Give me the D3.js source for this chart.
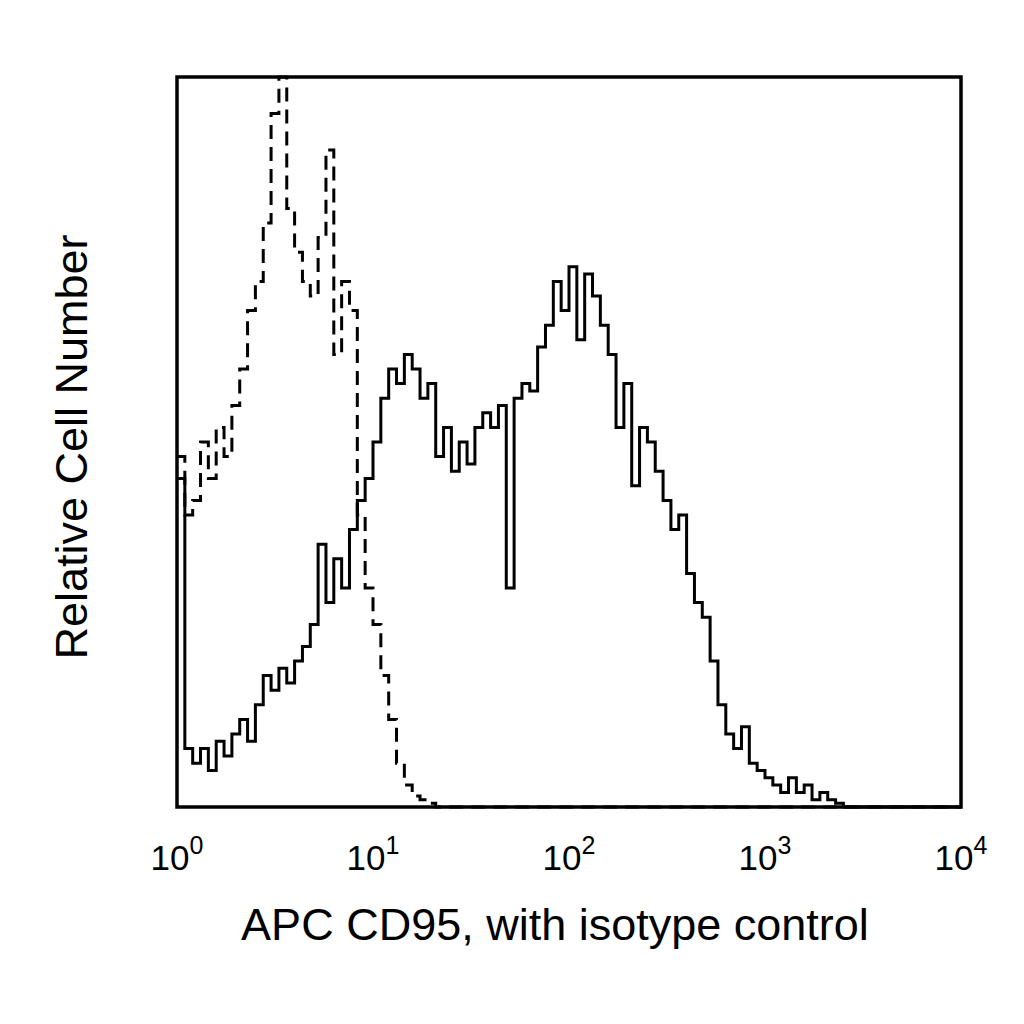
<!DOCTYPE html>
<html><head><meta charset="utf-8">
<script src="https://cdn.jsdelivr.net/npm/d3@7"></script>
<style>body{margin:0;background:#fff}</style>
</head><body>
<svg id="chart" width="1024" height="1024"></svg>
<script>
// histogram channels, 0.04 decade each, starting at 10^0
const binStep = 0.04;
const cd95 = [45,8,6,8,5,9,7,10,12,9,14,18,16,19,17,20,22,25,36,28,34,30,38,42,45,50,56,60,58,62,
  60,56,58,48,52,46,50,47,52,54,52,55,30,56,58,57,63,66,72,68,74,64,73,70,66,62,52,58,44,52,
  50,46,42,38,40,32,28,26,20,14,10,8,11,6,5,4,3,2,4,2,3,1,2,1,0.5,0,0,0,0,0,0,0,0,0,0,0,0,0,0,0];
const isotype = [48,40,42,50,45,52,48,55,60,68,72,80,95,100,82,76,72,70,78,90,62,72,68,40,30,25,18,12,6,3,
  1.5,1,0.5,0,0,0,0,0,0,0,0,0,0,0,0,0,0,0,0,0,0,0,0,0,0,0,0,0,0,0,
  0,0,0,0,0,0,0,0,0,0,0,0,0,0,0,0,0,0,0,0,0,0,0,0,0,0,0,0,0,0,0,0,0,0,0,0,0,0,0,0];
const tickExps = [0, 1, 2, 3, 4];

const svg = d3.select('#chart');
const margin = { left: 177, right: 63, top: 77, bottom: 217 };
const x = d3.scaleLog().domain([1, 1e4]).range([margin.left, 1024 - margin.right]);
const y = d3.scaleLinear().domain([0, 100]).range([1024 - margin.bottom, margin.top]);

function pts(arr) {
  const p = arr.map((v, i) => [Math.pow(10, i * binStep), v]);
  p.push([1e4, arr[arr.length - 1]]);
  return p;
}
const line = d3.line().x(d => x(d[0])).y(d => y(d[1])).curve(d3.curveStepAfter);

svg.append('path').attr('d', line(pts(isotype)))
  .attr('fill', 'none').attr('stroke', '#000').attr('stroke-width', 3)
  .attr('stroke-dasharray', '14,8');
svg.append('path').attr('d', line(pts(cd95)))
  .attr('fill', 'none').attr('stroke', '#000').attr('stroke-width', 3);

svg.append('rect')
  .attr('x', x(1)).attr('y', y(100))
  .attr('width', x(1e4) - x(1)).attr('height', y(0) - y(100))
  .attr('fill', 'none').attr('stroke', '#000').attr('stroke-width', 3.5);

const font = "'Liberation Sans', Arial, sans-serif";
const lab = svg.append('g').attr('font-family', font).attr('fill', '#000');
tickExps.forEach(e => {
  const t = lab.append('text').attr('x', x(Math.pow(10, e))).attr('y', 870)
    .attr('text-anchor', 'middle').attr('font-size', 35);
  t.append('tspan').text('10');
  t.append('tspan').attr('dy', -16).attr('font-size', 25).text(e);
});
lab.append('text').attr('x', 555).attr('y', 940).attr('text-anchor', 'middle')
  .attr('font-size', 45).text('APC CD95, with isotype control');
lab.append('text').attr('transform', 'translate(87,447) rotate(-90)')
  .attr('text-anchor', 'middle').attr('font-size', 45).text('Relative Cell Number');
</script>
</body></html>
